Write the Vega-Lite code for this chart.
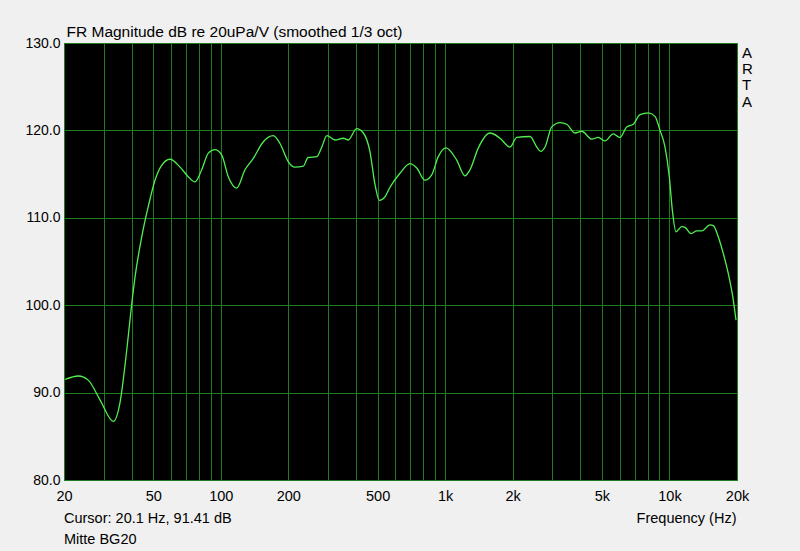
{
  "$schema": "https://vega.github.io/schema/vega-lite/v6.json",
  "width": 673,
  "height": 437,
  "autosize": {"type": "none"},
  "padding": {"left": 64, "top": 43, "right": 63, "bottom": 71},
  "background": "#f0f0f0",
  "config": {
    "view": {"fill": "#000000", "stroke": "#2a962a", "strokeWidth": 1},
    "font": "Liberation Sans"
  },
  "title": {
    "text": ["Cursor: 20.1 Hz, 91.41 dB", "Mitte BG20"],
    "orient": "bottom",
    "anchor": "start",
    "frame": "group",
    "align": "left",
    "baseline": "top",
    "font": "Liberation Sans",
    "fontSize": 14.5,
    "fontWeight": "normal",
    "lineHeight": 21,
    "color": "#000000",
    "offset": -13
  },
  "layer": [
    {
      "data": {
        "values": [
          {"f": 20.2, "db": 91.5},
          {"f": 23.2, "db": 91.9},
          {"f": 25.7, "db": 91.4},
          {"f": 28.9, "db": 89.2},
          {"f": 33.2, "db": 86.7},
          {"f": 35.5, "db": 88.8},
          {"f": 38.1, "db": 94.9},
          {"f": 40.1, "db": 100.2},
          {"f": 41.5, "db": 103.3},
          {"f": 44.4, "db": 107.8},
          {"f": 47.5, "db": 111.3},
          {"f": 50.9, "db": 114.3},
          {"f": 54.5, "db": 116.0},
          {"f": 59.4, "db": 116.7},
          {"f": 65.8, "db": 115.8},
          {"f": 71.6, "db": 114.7},
          {"f": 76.7, "db": 114.1},
          {"f": 82.2, "db": 115.5},
          {"f": 88.0, "db": 117.4},
          {"f": 94.2, "db": 117.8},
          {"f": 100.9, "db": 117.2},
          {"f": 108, "db": 114.7},
          {"f": 117.7, "db": 113.4},
          {"f": 128.2, "db": 115.5},
          {"f": 139.6, "db": 116.8},
          {"f": 154.7, "db": 118.7},
          {"f": 171.4, "db": 119.4},
          {"f": 183.6, "db": 118.5},
          {"f": 200, "db": 116.4},
          {"f": 214, "db": 115.8},
          {"f": 233, "db": 115.9},
          {"f": 245, "db": 116.9},
          {"f": 268, "db": 117.0},
          {"f": 282, "db": 118.1},
          {"f": 297, "db": 119.4},
          {"f": 323, "db": 118.9},
          {"f": 352, "db": 119.1},
          {"f": 370, "db": 118.9},
          {"f": 403, "db": 120.2},
          {"f": 432, "db": 119.7},
          {"f": 462, "db": 117.6},
          {"f": 487, "db": 113.8},
          {"f": 509, "db": 112.0},
          {"f": 539, "db": 112.4},
          {"f": 568, "db": 113.5},
          {"f": 629, "db": 115.1},
          {"f": 697, "db": 116.2},
          {"f": 747, "db": 115.7},
          {"f": 813, "db": 114.3},
          {"f": 871, "db": 114.9},
          {"f": 932, "db": 117.0},
          {"f": 1009, "db": 118.0},
          {"f": 1126, "db": 116.6},
          {"f": 1226, "db": 114.8},
          {"f": 1291, "db": 115.5},
          {"f": 1406, "db": 118.0},
          {"f": 1585, "db": 119.7},
          {"f": 1757, "db": 119.1},
          {"f": 1946, "db": 118.1},
          {"f": 2086, "db": 119.2},
          {"f": 2390, "db": 119.3},
          {"f": 2561, "db": 118.1},
          {"f": 2667, "db": 117.6},
          {"f": 2788, "db": 118.1},
          {"f": 2986, "db": 120.4},
          {"f": 3252, "db": 120.9},
          {"f": 3484, "db": 120.7},
          {"f": 3795, "db": 119.7},
          {"f": 4064, "db": 119.9},
          {"f": 4503, "db": 119.0},
          {"f": 4818, "db": 119.2},
          {"f": 5161, "db": 118.8},
          {"f": 5618, "db": 119.6},
          {"f": 6019, "db": 119.2},
          {"f": 6449, "db": 120.4},
          {"f": 6901, "db": 120.7},
          {"f": 7391, "db": 121.8},
          {"f": 8049, "db": 122.0},
          {"f": 8621, "db": 121.6},
          {"f": 9075, "db": 120.0},
          {"f": 9553, "db": 118.1},
          {"f": 9984, "db": 114.7},
          {"f": 10296, "db": 110.9},
          {"f": 10692, "db": 108.4},
          {"f": 11340, "db": 109.0},
          {"f": 11733, "db": 108.9},
          {"f": 12474, "db": 108.2},
          {"f": 13226, "db": 108.5},
          {"f": 13923, "db": 108.5},
          {"f": 15162, "db": 109.2},
          {"f": 15686, "db": 109.1},
          {"f": 16512, "db": 107.8},
          {"f": 17380, "db": 105.9},
          {"f": 18296, "db": 103.6},
          {"f": 19140, "db": 101.0},
          {"f": 19798, "db": 98.3}
        ]
      },
      "mark": {"type": "line", "color": "#50f050", "strokeWidth": 1.3, "interpolate": "monotone", "clip": true},
      "encoding": {
        "x": {
          "field": "f",
          "type": "quantitative",
          "scale": {"type": "log", "domain": [20, 20000], "nice": false},
          "axis": {
            "values": [20, 30, 40, 50, 60, 70, 80, 90, 100, 200, 300, 400, 500, 600, 700, 800, 900, 1000, 2000, 3000, 4000, 5000, 6000, 7000, 8000, 9000, 10000, 20000],
            "labelExpr": "indexof([20,50,100,200,500,1000,2000,5000,10000,20000], datum.value) >= 0 ? (datum.value >= 1000 ? (datum.value/1000) + 'k' : '' + datum.value) : ''",
            "grid": true,
            "gridColor": "#217a21",
            "gridOpacity": 1,
            "gridWidth": 1,
            "ticks": false,
            "domain": false,
            "labelFont": "Liberation Sans",
            "labelFontSize": 14.5,
            "labelColor": "#000000",
            "labelPadding": 16,
            "labelBaseline": "middle",
            "labelFlush": false,
            "labelOverlap": false,
            "title": "Frequency (Hz)",
            "titleFont": "Liberation Sans",
            "titleFontSize": 14.5,
            "titleFontWeight": "normal",
            "titleColor": "#000000",
            "titleAnchor": "end",
            "titleAlign": "right",
            "titleBaseline": "middle",
            "titleX": 672,
            "titleY": 38
          }
        },
        "y": {
          "field": "db",
          "type": "quantitative",
          "scale": {"domain": [80, 130], "nice": false, "zero": false},
          "axis": {
            "values": [80, 90, 100, 110, 120, 130],
            "format": ".1f",
            "grid": true,
            "gridColor": "#217a21",
            "gridOpacity": 1,
            "ticks": false,
            "domain": false,
            "labelFont": "Liberation Sans",
            "labelFontSize": 14,
            "labelColor": "#000000",
            "labelPadding": 4,
            "labelOffset": 0,
            "labelFlush": false,
            "title": "FR Magnitude dB re 20uPa/V (smoothed 1/3 oct)",
            "titleFont": "Liberation Sans",
            "titleFontSize": 15.5,
            "titleFontWeight": "normal",
            "titleColor": "#000000",
            "titleAngle": 0,
            "titleAlign": "left",
            "titleBaseline": "alphabetic",
            "titleX": 2,
            "titleY": -7
          }
        }
      }
    },
    {
      "data": {"values": [{"label": "A\nR\nT\nA"}]},
      "mark": {"type": "text", "align": "left", "baseline": "top", "font": "Liberation Sans", "fontSize": 15, "lineHeight": 16.2, "color": "#000000", "lineBreak": "\n", "dx": 5, "dy": 3},
      "encoding": {
        "text": {"field": "label"},
        "x": {"datum": 20000},
        "y": {"datum": 130}
      }
    }
  ]
}
